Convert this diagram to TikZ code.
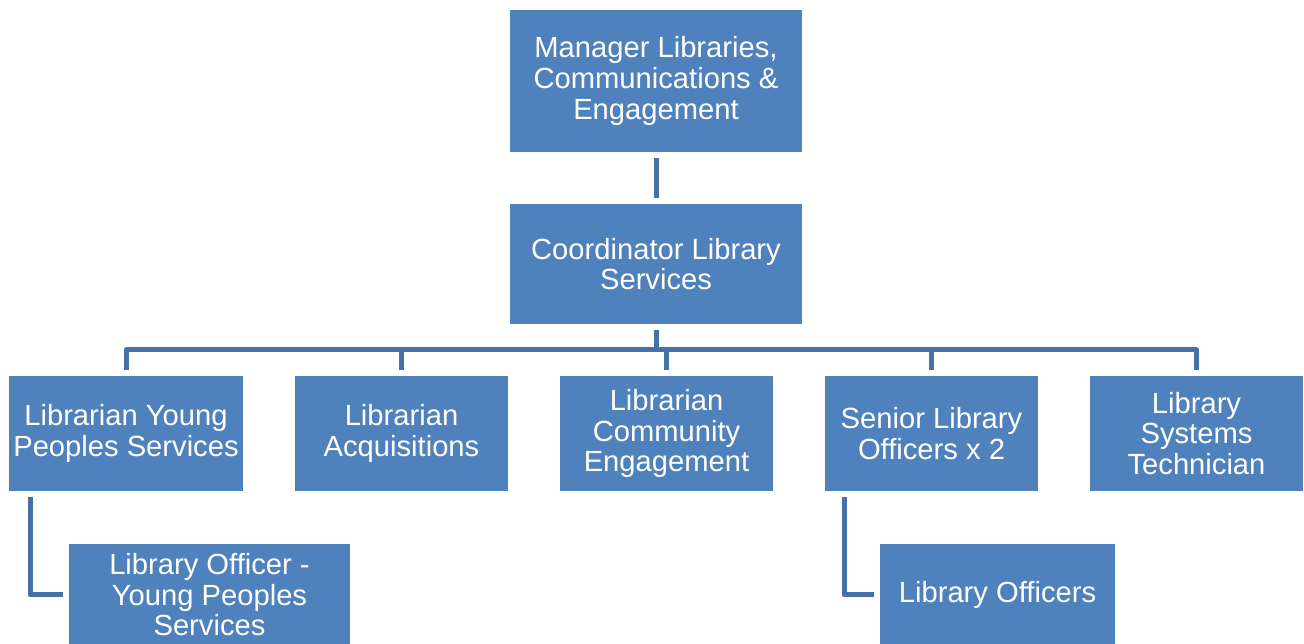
\documentclass[tikz,border=0pt]{standalone}
\usepackage{fontspec}
\setmainfont{Liberation Sans}
\usepackage{tikz}

\definecolor{boxblue}{HTML}{4F81BD}
\definecolor{lineblue}{HTML}{4571A8}

\begin{document}
\begin{tikzpicture}[font = \fontsize{8.3}{8.7}\selectfont,
    post/.style = {fill = boxblue, text = white, align = center, inner sep = 0pt, outer sep = 0pt, minimum width = 2.13cm, minimum height = 1.15cm},
    link/.style = {draw = lineblue, line width = 0.05cm, line join = round}]
        \useasboundingbox (0,0) rectangle (13.04,6.44);

        \node [post, minimum width = 2.92cm, minimum height = 1.42cm] (manager) at (6.56,5.63) {Manager Libraries,\\Communications \&\\Engagement};
        \node [post, minimum width = 2.92cm, minimum height = 1.20cm] (coordinator) at (6.56,3.80) {Coordinator Library\\Services};

        \node [post, minimum width = 2.34cm] (young) at (1.26,2.105) {Librarian Young\\Peoples Services};
        \node [post] (acquisitions) at (4.015,2.105) {Librarian\\Acquisitions};
        \node [post] (community) at (6.665,2.105) {Librarian\\Community\\Engagement};
        \node [post] (senior) at (9.315,2.105) {Senior Library\\Officers x 2};
        \node [post] (systems) at (11.965,2.105) {Library\\Systems\\Technician};

        \node [post, minimum width = 2.81cm, minimum height = 1.02cm] (youngofficer) at (2.095,0.49) {Library Officer -\\Young Peoples\\Services};
        \node [post, minimum width = 2.35cm, minimum height = 1.02cm] (officers) at (9.975,0.49) {Library Officers};

        \draw [link] ([yshift = -0.06cm]manager.south) -- ([yshift = 0.06cm]coordinator.north);

        \coordinate (bus) at ([yshift = -0.26cm]coordinator.south);
        \draw [link] ([yshift = -0.06cm]coordinator.south) -- (bus);
        \foreach \child in {young, acquisitions, community, senior, systems}
            \draw [link] (bus) -| ([yshift = 0.06cm]\child.north);

        \draw [link] ([xshift = 0.21cm, yshift = -0.06cm]young.south west) |- ([xshift = -0.06cm]youngofficer.west);
        \draw [link] ([xshift = 0.19cm, yshift = -0.06cm]senior.south west) |- ([xshift = -0.06cm]officers.west);
    \end{tikzpicture}
\end{document}
